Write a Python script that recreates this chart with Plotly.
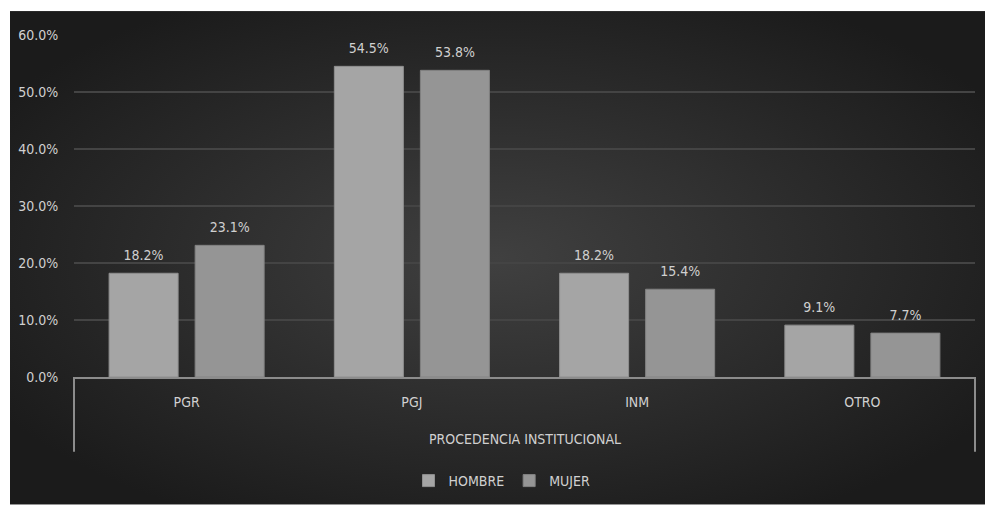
import base64
import plotly.graph_objects as go

categories = ["PGR", "PGJ", "INM", "OTRO"]
hombre = [0.182, 0.545, 0.182, 0.091]
mujer = [0.231, 0.538, 0.154, 0.077]
series_names = ["HOMBRE", "MUJER"]
axis_title = "PROCEDENCIA INSTITUCIONAL"

W, H = 985, 506
FONT = "DejaVu Sans Condensed, DejaVu Sans, sans-serif"
TXT = "#d0d0d0"
FS = 14
GAP = 0.236

svg = """<svg xmlns='http://www.w3.org/2000/svg' width='975' height='495' viewBox='0 0 975 495'>
<defs><radialGradient id='g' cx='50%' cy='50%' r='60%'>
<stop offset='0%' stop-color='#404040'/><stop offset='100%' stop-color='#1b1b1b'/>
</radialGradient></defs><rect width='975' height='495' fill='url(#g)'/></svg>"""
src = "data:image/svg+xml;base64," + base64.b64encode(svg.encode()).decode()

colors = ["#a5a5a5", "#959595"]
lines = ["#8f8f8f", "#828282"]

fig = go.Figure()
for name, vals, c, lc in zip(series_names, [hombre, mujer], colors, lines):
    fig.add_trace(go.Bar(
        name=name, x=categories, y=vals,
        marker=dict(color=c, line=dict(color=lc, width=1)),
        hovertemplate="%{x}: %{y:.1%}<extra>" + name + "</extra>",
    ))
for name, vals in zip(series_names, [hombre, mujer]):
    fig.add_trace(go.Scatter(
        x=categories, y=vals, mode="markers+text", showlegend=False,
        texttemplate="%{y:.1%}", textposition="top center",
        textfont=dict(color=TXT, size=FS, family=FONT),
        marker=dict(size=14, opacity=0), hoverinfo="skip", cliponaxis=False,
    ))

l, r, t, b = 74, 10, 35, 128
plot_h = H - t - b
y_bot = (378 - 453) / plot_h

fig.update_layout(
    width=W, height=H,
    margin=dict(l=l, r=r, t=t, b=b),
    paper_bgcolor="white",
    plot_bgcolor="rgba(0,0,0,0)",
    barmode="group", bargap=GAP, bargroupgap=0.198,
    scattermode="group", scattergap=GAP,
    font=dict(family=FONT, color=TXT, size=FS),
    showlegend=True,
    legend=dict(orientation="h", x=(502 - l) / (W - l - r), xanchor="center",
                y=(378 - 481) / plot_h, yanchor="middle",
                font=dict(size=FS, color=TXT, family=FONT),
                bgcolor="rgba(0,0,0,0)", itemwidth=30, traceorder="normal"),
    xaxis=dict(showline=True, linecolor="#8c8c8c", linewidth=2,
               ticks="outside", ticklen=11, tickcolor="rgba(0,0,0,0)",
               showgrid=False, tickfont=dict(size=FS, color=TXT, family=FONT)),
    yaxis=dict(range=[0, 0.6], dtick=0.1, tickformat=".1%",
               showgrid=True, gridcolor="#444444", gridwidth=1.5,
               zeroline=False, showline=False,
               ticks="outside", ticklen=12, tickcolor="rgba(0,0,0,0)",
               tickfont=dict(size=FS, color=TXT, family=FONT)),
    images=[dict(source=src, xref="paper", yref="paper",
                 x=(10 - l) / (W - l - r), y=(378 - 11) / plot_h,
                 sizex=(W - 10) / (W - l - r), sizey=(506 - 11) / plot_h,
                 xanchor="left", yanchor="top", sizing="stretch", layer="below")],
    shapes=[
        dict(type="line", xref="paper", yref="paper", x0=0, x1=0, y0=0, y1=y_bot,
             line=dict(color="#8c8c8c", width=2)),
        dict(type="line", xref="paper", yref="paper", x0=1, x1=1, y0=0, y1=y_bot,
             line=dict(color="#8c8c8c", width=2)),
    ],
    annotations=[dict(text=axis_title, xref="paper", yref="paper", x=0.5,
                      y=(378 - 440) / plot_h, yanchor="middle", showarrow=False,
                      font=dict(size=FS, color=TXT, family=FONT))],
)

fig.write_html("out.html", config={"displayModeBar": False},
               post_script="document.body.style.margin='0';document.body.style.overflow='hidden';")
